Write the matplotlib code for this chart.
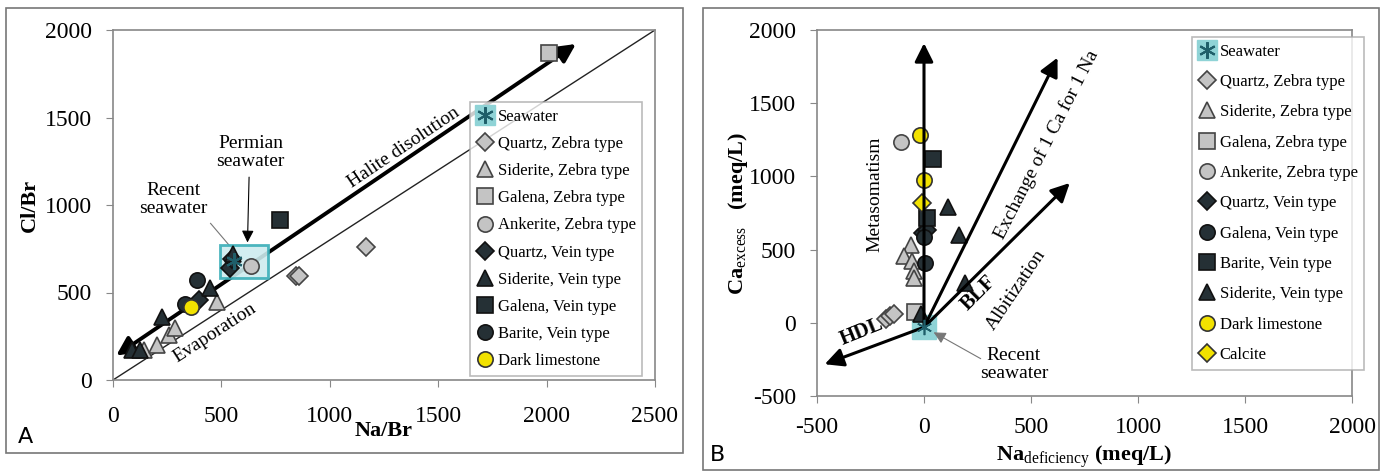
import matplotlib
matplotlib.use("Agg")
import matplotlib.pyplot as plt
from matplotlib.lines import Line2D
from matplotlib.patches import Rectangle

plt.rcParams['font.family'] = ['Liberation Serif', 'DejaVu Serif']
plt.rcParams['mathtext.fontset'] = 'custom'
plt.rcParams['mathtext.rm'] = 'Liberation Serif'
plt.rcParams['mathtext.bf'] = 'Liberation Serif:bold'
plt.rcParams['axes.unicode_minus'] = False

# ---- Panel A data (Na/Br vs Cl/Br) ----
sea_A_x, sea_A_y = [560], [680]
qz_zeb_A_x, qz_zeb_A_y = [845, 860, 1165], [595, 593, 762]
sid_zeb_A_x, sid_zeb_A_y = [143, 205, 256, 286, 480], [171, 200, 257, 300, 445]
gal_zeb_A_x, gal_zeb_A_y = [2010], [1870]
ank_zeb_A_x, ank_zeb_A_y = [635], [650]
qz_vein_A_x, qz_vein_A_y = [540, 548, 398], [640, 690, 455]
sid_vein_A_x, sid_vein_A_y = [86, 124, 224, 447, 553], [171, 171, 362, 525, 722]
gal_vein_A_x, gal_vein_A_y = [772], [916]
bar_vein_A_x, bar_vein_A_y = [332, 386], [433, 571]
lime_A_x, lime_A_y = [360], [418]

# ---- Panel B data (Na deficiency vs Ca excess) ----
sea_B_x, sea_B_y = [0], [-30]
qz_zeb_B_x, qz_zeb_B_y = [-179, -159, -138], [23, 45, 57]
sid_zeb_B_x, sid_zeb_B_y = [-61, -94, -57, -47, -49], [532, 453, 419, 351, 306]
gal_zeb_B_x, gal_zeb_B_y = [-43], [75]
ank_zeb_B_x, ank_zeb_B_y = [-108], [1234]
qz_vein_B_x, qz_vein_B_y = [-6, 14], [611, 634]
gal_vein_B_x, gal_vein_B_y = [4, 0], [408, 589]
bar_vein_B_x, bar_vein_B_y = [41, 16], [1121, 713]
sid_vein_B_x, sid_vein_B_y = [112, 163, 193, -16], [792, 600, 272, 57]
lime_B_x, lime_B_y = [-20, -2], [1286, 974]
calc_B_x, calc_B_y = [-10], [820]

ticks_A_x = [0, 500, 1000, 1500, 2000, 2500]
ticks_A_y = [0, 500, 1000, 1500, 2000]
ticks_B_x = [-500, 0, 500, 1000, 1500, 2000]
ticks_B_y = [-500, 0, 500, 1000, 1500, 2000]

LIGHT = '#c4c4c4'
DARK = '#253035'
YEL = '#f2e200'
CYAN = '#8fd3d6'
TEAL = '#1f5f6a'

def style(marker, face, edge):
    return dict(marker=marker, color=face, markeredgecolor=edge, markeredgewidth=1.2,
                linestyle='none', markersize=11)

st_qz_zeb = style('D', LIGHT, '#444444')
st_sid_zeb = style('^', LIGHT, '#444444')
st_gal_zeb = style('s', LIGHT, '#444444')
st_ank_zeb = style('o', LIGHT, '#444444')
st_dark_d = style('D', DARK, '#111111')
st_dark_t = style('^', DARK, '#111111')
st_dark_s = style('s', DARK, '#111111')
st_dark_o = style('o', DARK, '#111111')
st_lime = style('o', YEL, '#333333')
st_calc = style('D', YEL, '#333333')
for s in (st_qz_zeb, st_dark_d, st_calc):
    s['markersize'] = 9
for s in (st_sid_zeb, st_dark_t):
    s['markersize'] = 12


def sea_handle():
    bg = Line2D([], [], marker='s', color=CYAN, markersize=15, linestyle='none')
    star = Line2D([], [], marker=(6, 2, 0), color=TEAL, markersize=12,
                  markeredgewidth=1.5, linestyle='none')
    return (bg, star)


fig = plt.figure(figsize=(13.87, 4.72), dpi=100)

# panel frames
fig.add_artist(Rectangle((6 / 1387, 1 - 453 / 472), 677 / 1387, 445 / 472,
                         transform=fig.transFigure, fill=False, ec='#777777', lw=1.2))
fig.add_artist(Rectangle((703 / 1387, 1 - 470 / 472), 676 / 1387, 462 / 472,
                         transform=fig.transFigure, fill=False, ec='#777777', lw=1.2))

# ================= Panel A =================
ax1 = fig.add_axes([113 / 1387, 1 - 380 / 472, 542 / 1387, 350 / 472])
ax1.set_xlim(0, 2500)
ax1.set_ylim(0, 2000)
ax1.set_xticks(ticks_A_x)
ax1.set_yticks(ticks_A_y)

# evaporation line and halite dissolution arrow
ax1.plot([0, 2500], [0, 2000], color='#222222', lw=1.0, zorder=2)
ax1.annotate('', xy=(2135, 1920), xytext=(15, 140),
             arrowprops=dict(arrowstyle='<|-|>', color='black', lw=2.8,
                             mutation_scale=28, shrinkA=0, shrinkB=0), zorder=3)
ax1.add_patch(Rectangle((495, 585), 220, 185, facecolor='#cdecef', edgecolor='#3aaeb8',
                        lw=2, alpha=0.9, zorder=4))

ax1.plot(qz_zeb_A_x, qz_zeb_A_y, zorder=5, **st_qz_zeb)
ax1.plot(sid_zeb_A_x, sid_zeb_A_y, zorder=5, **st_sid_zeb)
ax1.plot(gal_zeb_A_x, gal_zeb_A_y, zorder=5, **st_gal_zeb)
ax1.plot(ank_zeb_A_x, ank_zeb_A_y, zorder=5, **st_ank_zeb)
ax1.plot(qz_vein_A_x, qz_vein_A_y, zorder=5, **st_dark_d)
ax1.plot(sid_vein_A_x, sid_vein_A_y, zorder=5, **st_dark_t)
ax1.plot(gal_vein_A_x, gal_vein_A_y, zorder=5, **st_dark_s)
ax1.plot(bar_vein_A_x, bar_vein_A_y, zorder=5, **st_dark_o)
ax1.plot(lime_A_x, lime_A_y, zorder=6, **st_lime)
ax1.plot(sea_A_x, sea_A_y, marker=(6, 2, 0), color=TEAL, markersize=12,
         markeredgewidth=1.5, linestyle='none', zorder=6)

ax1.text(1340, 1330, 'Halite disolution', rotation=34, ha='center', va='center', fontsize=14)
ax1.text(470, 270, 'Evaporation', rotation=33, ha='center', va='center', fontsize=14)
ax1.text(635, 1300, 'Permian\nseawater', ha='center', va='center', fontsize=14, linespacing=1.1)
ax1.annotate('', xy=(620, 770), xytext=(628, 1175),
             arrowprops=dict(arrowstyle='-|>', color='black', lw=0.8, mutation_scale=18))
ax1.text(277, 1030, 'Recent\nseawater', ha='center', va='center', fontsize=14, linespacing=1.1)
ax1.plot([450, 553], [895, 745], color='#777777', lw=0.8, zorder=3)

hA = [sea_handle(),
      Line2D([], [], **st_qz_zeb), Line2D([], [], **st_sid_zeb),
      Line2D([], [], **st_gal_zeb), Line2D([], [], **st_ank_zeb),
      Line2D([], [], **st_dark_d), Line2D([], [], **st_dark_t),
      Line2D([], [], **st_dark_s), Line2D([], [], **st_dark_o),
      Line2D([], [], **st_lime)]
lA = ['Seawater', 'Quartz, Zebra type', 'Siderite, Zebra type', 'Galena, Zebra type',
      'Ankerite, Zebra type', 'Quartz, Vein type', 'Siderite, Vein type',
      'Galena, Vein type', 'Barite, Vein type', 'Dark limestone']
legA = ax1.legend(hA, lA, loc='upper left', bbox_to_anchor=(0.659, 0.794), fontsize=12,
                  frameon=True, fancybox=False, edgecolor='#aaaaaa', handlelength=1.0,
                  handletextpad=0.25, labelspacing=0.67, borderpad=0.4, borderaxespad=0)
legA.get_frame().set_linewidth(1.2)
legA.set_zorder(10)

ax1.set_xlabel('Na/Br', fontsize=16, fontweight='bold', va='center')
ax1.xaxis.set_label_coords(0.5, -0.146)
ax1.set_ylabel('Cl/Br', fontsize=16, fontweight='bold', va='center')
ax1.yaxis.set_label_coords(-0.153, 0.5)

# ================= Panel B =================
ax2 = fig.add_axes([817 / 1387, 1 - 396 / 472, 535 / 1387, 366 / 472])
ax2.set_xlim(-500, 2000)
ax2.set_ylim(-500, 2000)
ax2.set_xticks(ticks_B_x)
ax2.set_yticks(ticks_B_y)

ax2.plot(sea_B_x, sea_B_y, marker='s', color=CYAN, markersize=17, linestyle='none', zorder=2)
ax2.plot(qz_zeb_B_x, qz_zeb_B_y, zorder=4, **st_qz_zeb)
ax2.plot(sid_zeb_B_x, sid_zeb_B_y, zorder=4, **st_sid_zeb)
ax2.plot(gal_zeb_B_x, gal_zeb_B_y, zorder=4, **st_gal_zeb)
ax2.plot(ank_zeb_B_x, ank_zeb_B_y, zorder=4, **st_ank_zeb)
ax2.plot(qz_vein_B_x, qz_vein_B_y, zorder=4, **st_dark_d)
ax2.plot(gal_vein_B_x, gal_vein_B_y, zorder=4, **st_dark_o)
ax2.plot(bar_vein_B_x, bar_vein_B_y, zorder=4, **st_dark_s)
ax2.plot(sid_vein_B_x, sid_vein_B_y, zorder=4, **st_dark_t)
ax2.plot(lime_B_x, lime_B_y, zorder=4, **st_lime)
ax2.plot(calc_B_x, calc_B_y, zorder=4, **st_calc)

origin = (0, -30)
for tip in [(0, 1910), (624, 1811), (681, 955), (-464, -283)]:
    ax2.annotate('', xy=tip, xytext=origin,
                 arrowprops=dict(arrowstyle='-|>', color='black', lw=2.2,
                                 mutation_scale=28, shrinkA=0, shrinkB=0), zorder=5)
ax2.plot(sea_B_x, sea_B_y, marker=(6, 2, 0), color=TEAL, markersize=11,
         markeredgewidth=1.2, linestyle='none', zorder=6)

ax2.text(-230, 880, 'Metasomatism', rotation=90, ha='center', va='center', fontsize=14)
ax2.text(575, 1220, 'Exchange of 1 Ca for 1 Na', rotation=63, ha='center', va='center', fontsize=14)
ax2.text(255, 205, 'BLF', rotation=45, ha='center', va='center', fontsize=15, fontweight='bold')
ax2.text(430, 225, 'Albitization', rotation=56, ha='center', va='center', fontsize=14)
ax2.text(-290, -65, 'HDL', rotation=22, ha='center', va='center', fontsize=15, fontweight='bold')
ax2.text(420, -285, 'Recent\nseawater', ha='center', va='center', fontsize=14, linespacing=1.1)
ax2.annotate('', xy=(45, -65), xytext=(265, -245),
             arrowprops=dict(arrowstyle='-|>', color='#777777', lw=0.8, mutation_scale=18,
                             shrinkA=0, shrinkB=0))

hB = [sea_handle(),
      Line2D([], [], **st_qz_zeb), Line2D([], [], **st_sid_zeb),
      Line2D([], [], **st_gal_zeb), Line2D([], [], **st_ank_zeb),
      Line2D([], [], **st_dark_d), Line2D([], [], **st_dark_o),
      Line2D([], [], **st_dark_s), Line2D([], [], **st_dark_t),
      Line2D([], [], **st_lime), Line2D([], [], **st_calc)]
lB = ['Seawater', 'Quartz, Zebra type', 'Siderite, Zebra type', 'Galena, Zebra type',
      'Ankerite, Zebra type', 'Quartz, Vein type', 'Galena, Vein type',
      'Barite, Vein type', 'Siderite, Vein type', 'Dark limestone', 'Calcite']
legB = ax2.legend(hB, lB, loc='upper left', bbox_to_anchor=(0.701, 0.981), fontsize=12,
                  frameon=True, fancybox=False, edgecolor='#aaaaaa', handlelength=1.0,
                  handletextpad=0.25, labelspacing=0.86, borderpad=0.4, borderaxespad=0)
legB.get_frame().set_linewidth(1.2)

ax2.set_xlabel(r'Na$_{\mathrm{deficiency}}$ (meq/L)', fontsize=16, fontweight='bold', va='center')
ax2.xaxis.set_label_coords(0.5, -0.168)
ax2.set_ylabel(r'Ca$_{\mathrm{excess}}$   (meq/L)', fontsize=16, fontweight='bold', va='center')
ax2.yaxis.set_label_coords(-0.148, 0.5)

for ax in (ax1, ax2):
    for sp in ax.spines.values():
        sp.set_color('#888888')
        sp.set_linewidth(1.2)
    ax.tick_params(direction='out', length=5, color='#888888', labelsize=17)
    ax.tick_params(axis='x', pad=14)
    ax.tick_params(axis='y', pad=10)
ax2.tick_params(axis='x', pad=10)

fig.text(18 / 1387, 1 - 437 / 472, 'A', fontsize=16, family='DejaVu Sans', va='center')
fig.text(710 / 1387, 1 - 455 / 472, 'B', fontsize=16, family='DejaVu Sans', va='center')

fig.savefig('out.png', dpi=100)
